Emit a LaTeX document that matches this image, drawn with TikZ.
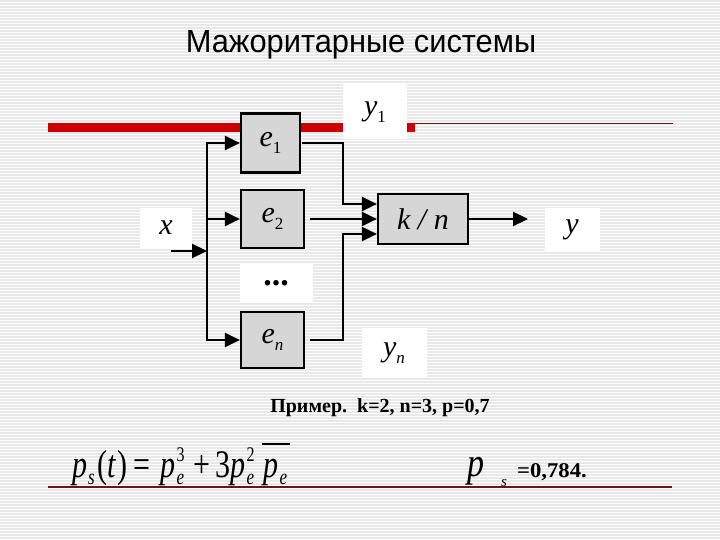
\documentclass[tikz,border=0pt]{standalone}
\usepackage{fontspec}
\setmainfont{Liberation Serif}
\newfontfamily\titlefont{Liberation Sans}
\usetikzlibrary{arrows.meta,calc}
\definecolor{boxgray}{RGB}{214,214,214}
\definecolor{barred}{RGB}{204,0,0}
\definecolor{thinred}{RGB}{110,20,20}
\definecolor{stripe}{RGB}{232,232,232}
\newcommand{\Lab}[3][\upshape]{{\fontsize{30}{30}\selectfont\itshape #2}\raisebox{-7pt}{\fontsize{17}{17}\selectfont #1#3}}
\newcommand{\fps}[2]{\textit{#1}\kern1pt\raisebox{-6pt}{\fontsize{17}{17}\selectfont\itshape #2}}
\newcommand{\fpb}[3]{\textit{#1}\kern1pt\rlap{\raisebox{-6pt}{\fontsize{17}{17}\selectfont\itshape #2}}\raisebox{12pt}{\fontsize{16}{16}\selectfont #3}}
\begin{document}
\begin{tikzpicture}[x=1pt,y=-1pt,
  blk/.style={draw=black, line width=2.2pt, fill=boxgray, inner sep=0pt},
  lbl/.style={fill=white, inner sep=0pt},
  wire/.style={line width=2.2pt, line cap=rect},
  arr/.style={line width=2.2pt, line cap=rect, -{Triangle[length=15pt,width=14pt]}},
]
\useasboundingbox (0,0) rectangle (720,540);
\fill[white] (0,0) rectangle (720,540);
\foreach \i in {0,...,179} \draw[stripe, line width=1.2pt] (0,\i*3+1) -- (720,\i*3+1);

% title
\node[font=\titlefont\fontsize{30.5}{30.5}\selectfont, inner sep=0pt, anchor=base] (title) at (361,53) {\scalebox{1.01}[1.05]{Мажоритарные системы}};

% red bars
\draw[barred, line width=9pt] (48,127.5) -- (415,127.5);
\draw[thinred, line width=1.5pt] (415,123.5) -- (673,123.5);
\draw[thinred, line width=1.5pt] (48,487) -- (672,487);

% label boxes
\node[lbl, minimum width=52pt, minimum height=39pt] (xl) at (166,228) {\fontsize{30}{30}\selectfont\itshape x};
\node[lbl, minimum width=64pt, minimum height=55pt] (y1l) at (375,112) {\Lab{y}{1}};
\node[lbl, minimum width=55pt, minimum height=44pt] (yl) at (572,230) {\fontsize{30}{30}\selectfont\itshape y};
\node[lbl, minimum width=65pt, minimum height=50pt] (ynl) at (394,353) {\Lab[\itshape]{y}{n}};
\node[lbl, minimum width=73pt, minimum height=40pt] (dots) at (276,283) {\fontsize{34}{34}\selectfont\bfseries ...};

% blocks
\node[blk, minimum width=59pt, minimum height=59pt] (e1) at (270.5,143) {\Lab{e}{1}};
\node[blk, minimum width=63pt, minimum height=58pt] (e2) at (272.5,219) {\Lab{e}{2}};
\node[blk, minimum width=63pt, minimum height=56pt] (en) at (272.5,340) {\Lab[\itshape]{e}{n}};
\node[blk, minimum width=90pt, minimum height=50pt] (kn) at (423,219) {\fontsize{30}{30}\selectfont\itshape k / n};

% connectors
\coordinate (in0) at (172,251);
\coordinate (tr) at (207,251);
\coordinate (j) at (343,0);
\coordinate (yout) at (528,219);
\draw[arr] (in0) -- (tr);
\draw[arr] (tr |- en.west) -- (tr |- e1.west) -- (e1.west);
\draw[arr] (tr |- e2.west) -- (e2.west);
\draw[arr] (tr |- en.west) -- (en.west);
\draw[arr] ([xshift=2pt]e1.east) -| ([yshift=15pt]kn.west -| j) -- ([yshift=15pt]kn.west);
\draw[arr] ([xshift=6pt]e2.east) -- (kn.west);
\draw[arr] ([xshift=6pt]en.east) -| ([yshift=-15pt]kn.west -| j) -- ([yshift=-15pt]kn.west);
\draw[arr] (kn.east) -- (yout);

% example text
\node[font=\fontsize{20}{20}\selectfont\bfseries] (ex) at (380,408) {Пример.\ \ k=2, n=3, p=0,7};

% formula
\node[anchor=base west, inner sep=0pt] (f1) at (72,477) {\scalebox{1}[1.3]{\fontsize{30}{30}\selectfont
 \fps{p}{s}\kern3pt(\textit{t}\kern1pt)\kern6pt=\kern10pt\fpb{p}{e}{3}\kern9pt+\kern5pt3\fpb{p}{e}{2}\kern9pt\fps{p}{e}}};
\draw[line width=1.2pt] (262,444) -- (290,444);

\node[anchor=base west, inner sep=0pt] (ps) at (467,476) {\scalebox{1}[1.2]{\fontsize{34}{34}\selectfont\itshape p}};
\node[anchor=base west, inner sep=0pt] (pss) at (501,486) {\fontsize{15}{15}\selectfont\itshape s};
\node[anchor=base west, inner sep=0pt] (val) at (517,477) {\scalebox{1.08}[1]{\fontsize{21}{21}\selectfont\bfseries =0,784.}};
\end{tikzpicture}
\end{document}
